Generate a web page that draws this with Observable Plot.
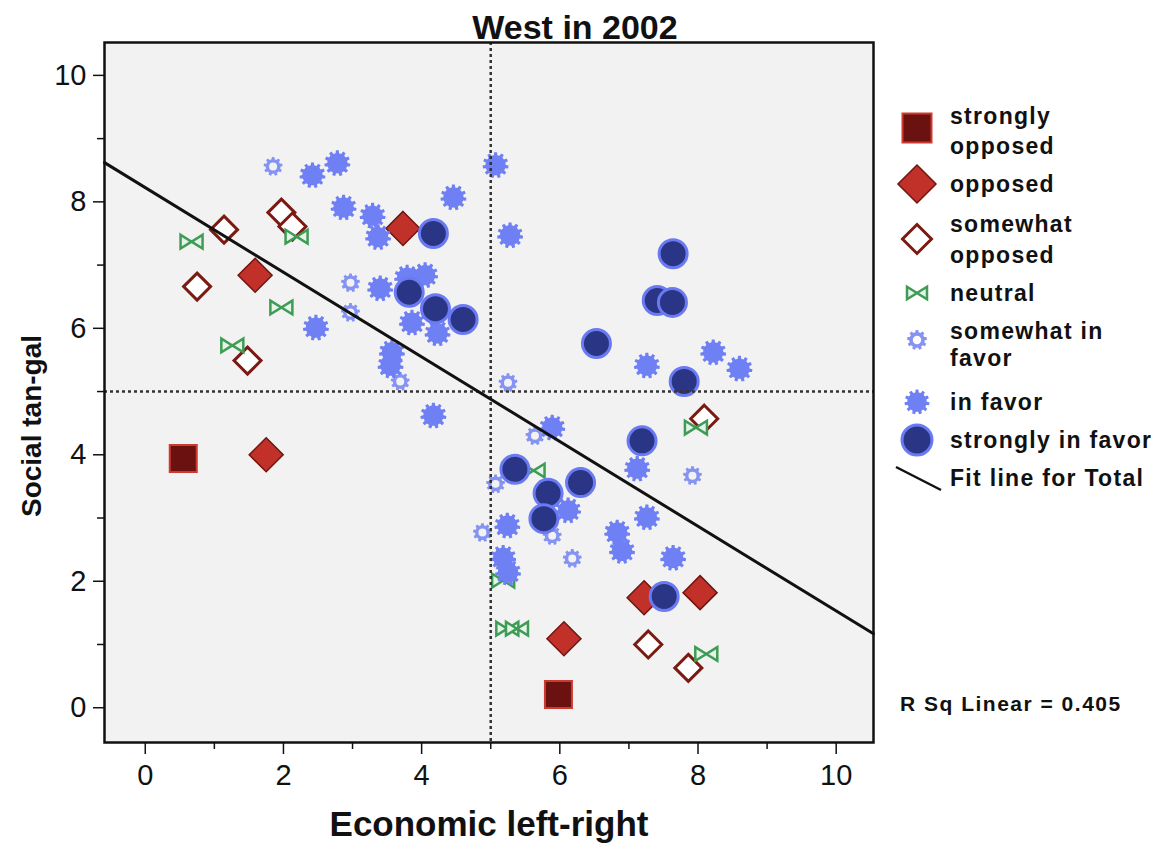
<!DOCTYPE html>
<html><head><meta charset="utf-8">
<script src="https://cdn.jsdelivr.net/npm/d3@7"></script>
<script src="https://cdn.jsdelivr.net/npm/@observablehq/plot@0.6"></script>
<style>
body{margin:0;background:#fff;}
#chart{position:relative;width:1151px;height:844px;}
</style></head><body><div id="chart"></div>
<script>
// ---- data ----
const title = "West in 2002";
const xLabel = "Economic left-right";
const yLabel = "Social tan-gal";
const rsqText = "R Sq Linear = 0.405";
const xTicks = [0, 2, 4, 6, 8, 10];
const xMinor = [1, 3, 5, 7, 9];
const yTicks = [0, 2, 4, 6, 8, 10];
const yMinor = [1, 3, 5, 7, 9];
const xDomain = [-0.59, 10.54];
const yDomain = [-0.55, 10.52];
const refX = [5];
const refY = [5];
const fitLine = [{x: -0.59, y: 8.62}, {x: 10.54, y: 1.17}];

const stronglyOpposed = [{x:0.55,y:3.94},{x:5.98,y:0.21}];
const opposed = [{x:3.73,y:7.58},{x:1.59,y:6.84},{x:1.75,y:4.00},{x:7.22,y:1.74},{x:8.03,y:1.82},{x:6.06,y:1.09}];
const somewhatOpposed = [{x:1.14,y:7.56},{x:1.97,y:7.83},{x:2.13,y:7.61},{x:0.75,y:6.66},{x:1.48,y:5.49},{x:8.09,y:4.57},{x:7.28,y:1.00},{x:7.86,y:0.63}];
const neutral = [{x:0.67,y:7.37},{x:2.19,y:7.45},{x:1.97,y:6.33},{x:1.26,y:5.73},{x:5.62,y:3.75},{x:7.97,y:4.43},{x:5.18,y:2.01},{x:5.24,y:1.25},{x:5.38,y:1.25},{x:8.12,y:0.85}];
const somewhatFavor = [{x:1.85,y:8.56},{x:2.97,y:6.72},{x:2.97,y:6.25},{x:3.69,y:5.16},{x:5.25,y:5.14},{x:5.64,y:4.30},{x:5.07,y:3.54},{x:4.88,y:2.77},{x:5.89,y:2.72},{x:6.18,y:2.36},{x:7.92,y:3.67}];
const inFavor = [{x:2.42,y:8.42},{x:2.78,y:8.61},{x:2.87,y:7.91},{x:3.29,y:7.78},{x:3.37,y:7.44},{x:4.46,y:8.07},{x:5.07,y:8.58},{x:5.28,y:7.47},{x:2.47,y:6.01},{x:3.40,y:6.63},{x:3.79,y:6.80},{x:4.05,y:6.84},{x:3.86,y:6.09},{x:4.23,y:5.92},{x:3.57,y:5.62},{x:3.55,y:5.41},{x:4.17,y:4.62},{x:5.89,y:4.43},{x:7.26,y:5.41},{x:8.22,y:5.62},{x:8.60,y:5.36},{x:7.12,y:3.78},{x:7.26,y:3.01},{x:6.83,y:2.77},{x:6.90,y:2.48},{x:7.64,y:2.37},{x:6.12,y:3.12},{x:5.24,y:2.88},{x:5.18,y:2.37},{x:5.25,y:2.14}];
const stronglyFavor = [{x:4.17,y:7.50},{x:3.82,y:6.57},{x:4.20,y:6.31},{x:4.60,y:6.14},{x:7.64,y:7.18},{x:7.41,y:6.44},{x:7.63,y:6.41},{x:6.53,y:5.76},{x:7.80,y:5.16},{x:7.19,y:4.22},{x:5.35,y:3.77},{x:6.30,y:3.56},{x:5.83,y:3.39},{x:5.77,y:2.99},{x:7.51,y:1.76}];

const legendLabels = [
  ["strongly", "opposed"], ["opposed"], ["somewhat", "opposed"], ["neutral"],
  ["somewhat in", "favor"], ["in favor"], ["strongly in favor"], ["Fit line for Total"]
];

// ---- custom symbols ----
const R = s => Math.sqrt(s / Math.PI);
const squareSym = {draw(c, s){const r=R(s); c.moveTo(-r,-r); c.lineTo(r,-r); c.lineTo(r,r); c.lineTo(-r,r); c.closePath();}};
const diamondSym = {draw(c, s){const r=R(s); c.moveTo(0,-r); c.lineTo(r,0); c.lineTo(0,r); c.lineTo(-r,0); c.closePath();}};
const bowtieSym = {draw(c, s){const r=R(s), h=r*0.62; c.moveTo(-r,-h); c.lineTo(0,0); c.lineTo(-r,h); c.closePath(); c.moveTo(r,-h); c.lineTo(0,0); c.lineTo(r,h); c.closePath();}};
function gear(c, r, n, holeFrac) {
  const ri = r * 0.78, step = 2 * Math.PI / n;
  for (let k = 0; k < n; k++) {
    const a = k * step - Math.PI / 2;
    const pts = [[a - 0.2*step, r], [a + 0.2*step, r], [a + 0.3*step, ri], [a + 0.7*step, ri]];
    pts.forEach(([ang, rr], i) => {
      const px = rr * Math.cos(ang), py = rr * Math.sin(ang);
      if (k === 0 && i === 0) c.moveTo(px, py); else c.lineTo(px, py);
    });
  }
  c.closePath();
  if (holeFrac) { const hr = r * holeFrac; c.moveTo(hr, 0); c.arc(0, 0, hr, 0, 2*Math.PI, true); c.closePath(); }
}
const gearSym = {draw(c, s){gear(c, R(s), 11, 0);}};
const ringGearSym = {draw(c, s){gear(c, R(s), 9, 0.42);}};
const circleSym = {draw(c, s){const r=R(s); c.moveTo(r,0); c.arc(0,0,r,0,2*Math.PI);}};

const styles = [
  {sym: squareSym, r: 13.5, fill: "#6b1210", stroke: "#cc3b30", sw: 2, lr: 14.5},
  {sym: diamondSym, r: 17, fill: "#c2302a", stroke: "#6e1610", sw: 1.5, lr: 19},
  {sym: diamondSym, r: 13.5, fill: "#ffffff", stroke: "#7b1a12", sw: 3, lr: 14.5},
  {sym: bowtieSym, r: 11, fill: "#e6f3e8", stroke: "#3e9c55", sw: 2.5, lr: 10},
  {sym: ringGearSym, r: 9.5, fill: "#8593f2", stroke: "none", sw: 0, lr: 10},
  {sym: gearSym, r: 13, fill: "#6f80f4", stroke: "none", sw: 0, lr: 12.5},
  {sym: circleSym, r: 14, fill: "#2b3585", stroke: "#6a7af2", sw: 3, lr: 15}
];
const groups = [stronglyOpposed, opposed, somewhatOpposed, neutral, somewhatFavor, inFavor, stronglyFavor];

const font = "'Liberation Sans', Arial, Helvetica, sans-serif";
const plot = Plot.plot({
  width: 1151, height: 844,
  marginLeft: 104, marginRight: 278, marginTop: 42, marginBottom: 102,
  style: {background: "#ffffff", fontFamily: font, color: "#111"},
  x: {domain: xDomain},
  y: {domain: yDomain},
  marks: [
    Plot.frame({fill: "#f2f2f2", stroke: null}),
    ...groups.map((g, i) => Plot.dot(g, {x: "x", y: "y", symbol: styles[i].sym, r: styles[i].r,
      fill: styles[i].fill, stroke: styles[i].stroke, strokeWidth: styles[i].sw})),
    Plot.ruleX(refX, {stroke: "#333", strokeWidth: 2.5, strokeDasharray: "3,3"}),
    Plot.ruleY(refY, {stroke: "#333", strokeWidth: 2.5, strokeDasharray: "3,3"}),
    Plot.line(fitLine, {x: "x", y: "y", stroke: "#111", strokeWidth: 3}),
    Plot.axisX({ticks: xTicks, tickSize: 12, tickPadding: 10, fontSize: 29, label: null, tickFormat: d => String(d), stroke: "#111", strokeWidth: 1.5}),
    Plot.axisX({ticks: xMinor, tickSize: 7, tickFormat: () => "", label: null, stroke: "#111", strokeWidth: 1.5}),
    Plot.axisY({ticks: yTicks, tickSize: 11, tickPadding: 7, fontSize: 29, label: null, tickFormat: d => String(d), stroke: "#111", strokeWidth: 1.5}),
    Plot.axisY({ticks: yMinor, tickSize: 7, tickFormat: () => "", label: null, stroke: "#111", strokeWidth: 1.5}),
    Plot.frame({stroke: "#111", strokeWidth: 2.5})
  ]
});
document.getElementById("chart").appendChild(plot);

const svg = d3.select(plot);
// title and axis titles
svg.append("text").attr("x", 575).attr("y", 39).attr("text-anchor", "middle")
  .attr("font-family", font).attr("font-weight", "bold").attr("font-size", 34).attr("fill", "#111").text(title);
svg.append("text").attr("x", 489).attr("y", 836).attr("text-anchor", "middle")
  .attr("font-family", font).attr("font-weight", "bold").attr("font-size", 35).attr("fill", "#111").text(xLabel);
svg.append("text").attr("transform", "translate(41,426) rotate(-90)").attr("text-anchor", "middle")
  .attr("font-family", font).attr("font-weight", "bold").attr("font-size", 28).attr("fill", "#111").text(yLabel);

// legend
const lg = svg.append("g").attr("font-family", font).attr("font-weight", "bold").attr("font-size", 23)
  .attr("fill", "#111").attr("text-anchor", "start");
const symY = [128, 184, 239, 293, 340, 402, 440];
const lineY = [[116, 146], [184], [224, 255], [293], [331, 358], [402], [440], [478]];
styles.forEach((s, i) => {
  lg.append("path").attr("transform", `translate(917,${symY[i]})`)
    .attr("d", d3.symbol(s.sym, s.lr * s.lr * Math.PI)())
    .attr("fill", s.fill).attr("stroke", s.stroke).attr("stroke-width", s.sw);
});
lg.append("line").attr("x1", 896).attr("y1", 467).attr("x2", 941).attr("y2", 490).attr("stroke", "#111").attr("stroke-width", 2.5);
legendLabels.forEach((lines, i) => {
  lines.forEach((t, j) => {
    lg.append("text").attr("x", 950).attr("y", lineY[i][j]).attr("dy", "0.36em")
      .attr("text-anchor", "start").attr("letter-spacing", 1.3).text(t);
  });
});
svg.append("text").attr("x", 900).attr("y", 711).attr("text-anchor", "start").attr("font-family", font).attr("font-weight", "bold")
  .attr("font-size", 21).attr("letter-spacing", 1.5).attr("fill", "#111").text(rsqText);
</script></body></html>
